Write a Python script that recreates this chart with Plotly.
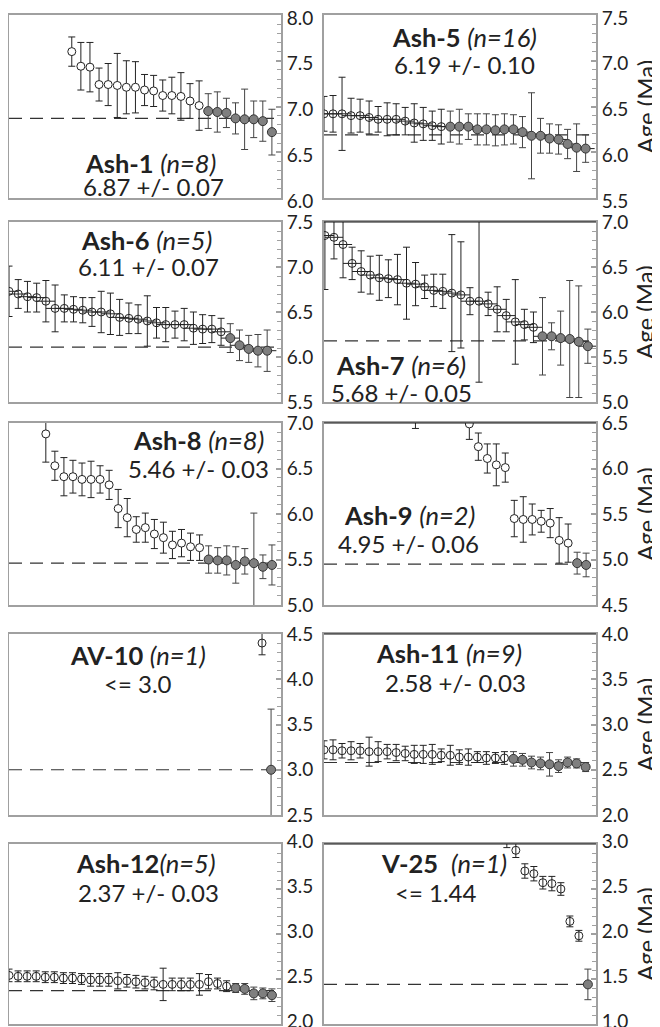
import plotly.graph_objects as go

# ---------------- data ----------------
names = ["Ash-1", "Ash-5", "Ash-6", "Ash-7", "Ash-8", "Ash-9", "AV-10", "Ash-11", "Ash-12", "V-25"]
n_used = [8, 16, 5, 6, 8, 2, 1, 9, 5, 1]
means = [6.87, 6.19, 6.11, 5.68, 5.46, 4.95, 3.0, 2.58, 2.37, 1.44]
mean_labels = ["6.87 +/- 0.07", "6.19 +/- 0.10", "6.11 +/- 0.07", "5.68 +/- 0.05", "5.46 +/- 0.03",
               "4.95 +/- 0.06", "<= 3.0", "2.58 +/- 0.03", "2.37 +/- 0.03", "<= 1.44"]
y_ranges = [[6.0, 8.0], [5.5, 7.5], [5.5, 7.5], [5.0, 7.0], [5.0, 7.0],
            [4.5, 6.5], [2.5, 4.5], [2.0, 4.0], [2.0, 4.0], [1.0, 3.0]]

ash1_idx = list(range(7, 30))
ash1_age = [7.60, 7.44, 7.43, 7.24, 7.24, 7.23, 7.21, 7.21, 7.18, 7.17, 7.12, 7.12, 7.11, 7.06, 7.01,
            6.95, 6.94, 6.93, 6.87, 6.86, 6.86, 6.84, 6.72]
ash1_err = [0.16, 0.26, 0.27, 0.18, 0.23, 0.35, 0.29, 0.28, 0.17, 0.17, 0.17, 0.20, 0.26, 0.19, 0.27,
            0.19, 0.22, 0.16, 0.17, 0.33, 0.20, 0.22, 0.25]

ash5_idx = list(range(0, 30))
ash5_age = [6.42, 6.42, 6.42, 6.40, 6.40, 6.38, 6.36, 6.36, 6.36, 6.34, 6.32, 6.31, 6.29, 6.28,
            6.28, 6.28, 6.28, 6.25, 6.25, 6.24, 6.25, 6.25, 6.22, 6.18, 6.18, 6.15, 6.14, 6.09, 6.05, 6.04]
ash5_err = [0.19, 0.20, 0.40, 0.19, 0.18, 0.18, 0.14, 0.18, 0.17, 0.15, 0.21, 0.18, 0.16, 0.19,
            0.17, 0.19, 0.14, 0.17, 0.17, 0.17, 0.17, 0.16, 0.17, 0.47, 0.19, 0.16, 0.16, 0.16, 0.26, 0.15]

ash6_idx = list(range(0, 29))
ash6_age = [6.73, 6.70, 6.67, 6.66, 6.62, 6.54, 6.54, 6.53, 6.52, 6.50, 6.50, 6.48, 6.44, 6.43, 6.42,
            6.40, 6.38, 6.36, 6.36, 6.36, 6.32, 6.31, 6.31, 6.28, 6.21, 6.13, 6.09, 6.07, 6.07]
ash6_err = [0.28, 0.16, 0.17, 0.16, 0.23, 0.26, 0.15, 0.14, 0.14, 0.16, 0.23, 0.23, 0.20, 0.17, 0.16,
            0.28, 0.17, 0.19, 0.15, 0.18, 0.18, 0.16, 0.15, 0.15, 0.16, 0.17, 0.15, 0.18, 0.23]

ash7_idx = list(range(0, 30))
ash7_age = [6.85, 6.83, 6.75, 6.54, 6.45, 6.41, 6.38, 6.37, 6.36, 6.32, 6.31, 6.28, 6.24, 6.23, 6.21,
            6.19, 6.12, 6.12, 6.09, 6.03, 5.96, 5.89, 5.86, 5.83, 5.73, 5.73, 5.71, 5.70, 5.67, 5.62]
ash7_err = [0.60, 0.24, 0.37, 0.18, 0.23, 0.21, 0.25, 0.21, 0.28, 0.40, 0.24, 0.13, 0.18, 0.19, 0.65,
            0.59, 0.15, 0.90, 0.13, 0.25, 0.18, 0.47, 0.17, 0.17, 0.43, 0.15, 0.30, 0.65, 0.62, 0.19]

ash8_idx = list(range(4, 30))
ash8_age = [6.88, 6.53, 6.41, 6.41, 6.38, 6.38, 6.38, 6.32, 6.06, 5.96, 5.83, 5.85, 5.78, 5.74, 5.66,
            5.68, 5.64, 5.63, 5.50, 5.49, 5.49, 5.44, 5.48, 5.46, 5.42, 5.44]
ash8_err = [0.31, 0.16, 0.21, 0.18, 0.18, 0.20, 0.15, 0.16, 0.21, 0.21, 0.14, 0.16, 0.16, 0.17, 0.15,
            0.15, 0.15, 0.14, 0.15, 0.14, 0.16, 0.20, 0.14, 0.55, 0.13, 0.22]

ash9_idx = [10] + list(range(16, 30))
ash9_age = [6.90, 6.49, 6.24, 6.11, 6.04, 6.01, 5.45, 5.44, 5.44, 5.42, 5.40, 5.21, 5.18, 4.96, 4.94]
ash9_err = [0.46, 0.17, 0.15, 0.16, 0.23, 0.16, 0.20, 0.25, 0.17, 0.12, 0.16, 0.25, 0.21, 0.12, 0.13]

av10_idx = [28, 29]
av10_age = [4.40, 3.00]
av10_err = [0.13, 0.67]

ash11_idx = list(range(0, 30))
ash11_age = [2.72, 2.72, 2.71, 2.71, 2.71, 2.70, 2.70, 2.70, 2.69, 2.68, 2.67, 2.67, 2.67, 2.66, 2.66,
             2.64, 2.64, 2.64, 2.63, 2.63, 2.63, 2.62, 2.61, 2.58, 2.57, 2.56, 2.54, 2.58, 2.57, 2.53]
ash11_err = [0.10, 0.11, 0.08, 0.10, 0.08, 0.16, 0.11, 0.08, 0.09, 0.08, 0.10, 0.10, 0.11, 0.07, 0.11,
             0.08, 0.09, 0.06, 0.07, 0.06, 0.07, 0.08, 0.07, 0.07, 0.07, 0.13, 0.07, 0.06, 0.05, 0.05]

ash12_idx = list(range(0, 30))
ash12_age = [2.54, 2.53, 2.53, 2.53, 2.52, 2.52, 2.51, 2.51, 2.50, 2.49, 2.49, 2.49, 2.48, 2.48, 2.47,
             2.46, 2.45, 2.44, 2.44, 2.44, 2.44, 2.44, 2.47, 2.45, 2.42, 2.40, 2.39, 2.34, 2.34, 2.32]
ash12_err = [0.07, 0.06, 0.06, 0.06, 0.06, 0.06, 0.06, 0.06, 0.06, 0.07, 0.07, 0.07, 0.09, 0.07, 0.07,
             0.07, 0.07, 0.18, 0.07, 0.07, 0.07, 0.12, 0.08, 0.06, 0.06, 0.05, 0.06, 0.07, 0.06, 0.07]

v25_idx = [20] + list(range(21, 30))
v25_age = [3.10, 2.93, 2.70, 2.67, 2.57, 2.56, 2.50, 2.14, 1.98, 1.44]
v25_err = [0.14, 0.08, 0.08, 0.08, 0.07, 0.08, 0.07, 0.06, 0.06, 0.17]

idx_all = [ash1_idx, ash5_idx, ash6_idx, ash7_idx, ash8_idx, ash9_idx, av10_idx, ash11_idx, ash12_idx, v25_idx]
age_all = [ash1_age, ash5_age, ash6_age, ash7_age, ash8_age, ash9_age, av10_age, ash11_age, ash12_age, v25_age]
err_all = [ash1_err, ash5_err, ash6_err, ash7_err, ash8_err, ash9_err, av10_err, ash11_err, ash12_err, v25_err]

# ---------------- layout / style ----------------
PAGE = 8                      # default page (body) margin of the html page
W, H = 660 - PAGE, 1027 - PAGE


def px(x):
    return (x - PAGE) / W


def py(y):
    return 1 - (y - PAGE) / H


col_x = [(9, 281), (324, 596)]
row_y = [(15, 198), (222, 402), (423, 605), (634, 815), (844, 1024)]
row_label_shift = [3, 0, 0, 0, -3]
x_ranges = [[0.1, 30.0], [0.0, 30.15], [0.0, 29.5], [-0.1, 29.9], [-0.07, 30.0],
            [-0.18, 30.1], [-0.02, 30.1], [0.0, 30.15], [0.0, 30.0], [-0.3, 29.9]]
white_fill = [True, False, False, False, True, True, False, False, False, False]
x_bars = [False, True, True, True, False, False, False, False, False, False]
# text positions (pixel centres in the page): line1, line2
txt_pos = [((150, 163), (153, 186)), ((464, 37), (464, 64)), ((146, 240), (148, 267)),
           ((401, 365), (402, 392)), ((198, 440), (198, 468)), ((409, 515), (408, 543)),
           ((138, 655), (138, 683)), ((449, 653), (455, 682)), ((145, 863), (148, 892)),
           ((444, 863), (435, 892))]
name_sep = [" ", " ", " ", " ", " ", " ", " ", " ", "", "  "]

FONT = "Lato, 'Open Sans', sans-serif"
AX = "#a0a0a0"
TXT = "#222222"

fig = go.Figure()
layout = dict(template="none", width=W, height=H, margin=dict(l=0, r=0, t=0, b=0, pad=0), autosize=False,
              paper_bgcolor="white", plot_bgcolor="white", showlegend=False)
shapes, annotations = [], []

for k in range(10):
    row, col = divmod(k, 2)
    x0, x1 = col_x[col]
    y0, y1 = row_y[row]
    sfx = "" if k == 0 else str(k + 1)
    xa, ya = "x" + sfx, "y" + sfx
    layout["xaxis" + sfx] = dict(domain=[px(x0), px(x1)], range=x_ranges[k], anchor=ya, automargin=False,
                                 showticklabels=False, ticks="", showgrid=False, zeroline=False,
                                 showline=True, mirror=True, linecolor=AX, linewidth=1.5)
    layout["yaxis" + sfx] = dict(domain=[py(y1), py(y0)], range=y_ranges[k], anchor=xa,
                                 automargin=False, side="right", showgrid=False, zeroline=False,
                                 showline=True, mirror=True, linecolor=AX, linewidth=2,
                                 dtick=0.5, tick0=0, tickformat=".1f", ticks="inside", ticklen=5,
                                 tickcolor=AX, tickwidth=1.5, ticklabeloverflow="allow",
                                 ticklabelshift=row_label_shift[row],
                                 tickfont=dict(family=FONT, size=19, color=TXT),
                                 minor=dict(dtick=0.1, ticks="inside", ticklen=4, tickcolor=AX, tickwidth=1))

    idx, age, err = idx_all[k], age_all[k], err_all[k]
    n = n_used[k]
    m = len(age) - n
    # dashed weighted mean line
    shapes.append(dict(type="line", xref=xa + " domain", yref=ya, x0=0, x1=1, y0=means[k], y1=means[k],
                       line=dict(color="#333333", width=1.2, dash="13px,8px"), layer="below"))
    if col == 1 and row > 0:
        shapes.append(dict(type="line", xref=xa + " domain", yref=ya + " domain", x0=0, x1=1, y0=1, y1=1,
                           line=dict(color="#111111", width=1.2)))
    ex = dict(type="constant", value=1, color="#222222", thickness=1, width=0) if x_bars[k] else None
    if m > 0:
        if white_fill[k]:
            mk = dict(symbol="circle", size=8, color="white", line=dict(color="#222222", width=1))
        else:
            mk = dict(symbol="circle-open", size=8, color="#222222", line=dict(width=1))
        fig.add_trace(go.Scatter(x=idx[:m], y=age[:m], mode="markers", xaxis=xa, yaxis=ya, marker=mk,
                                 error_y=dict(type="data", array=err[:m], color="#222222", thickness=1, width=3.5),
                                 error_x=ex))
    fig.add_trace(go.Scatter(x=idx[m:], y=age[m:], mode="markers", xaxis=xa, yaxis=ya,
                             marker=dict(symbol="circle", size=9, color="#7f7f7f",
                                         line=dict(color="#333333", width=1)),
                             error_y=dict(type="data", array=err[m:], color="#444444", thickness=1, width=3.5),
                             error_x=ex))

    (l1x, l1y), (l2x, l2y) = txt_pos[k]
    annotations.append(dict(xref="paper", yref="paper", x=px(l1x), y=py(l1y), xanchor="center",
                            yanchor="middle", showarrow=False,
                            text="<b>%s</b>%s<i>(n=%d)</i>" % (names[k], name_sep[k], n),
                            font=dict(family=FONT, size=25.5, color=TXT)))
    annotations.append(dict(xref="paper", yref="paper", x=px(l2x), y=py(l2y), xanchor="center",
                            yanchor="middle", showarrow=False, text=mean_labels[k].replace("<", "&lt;"),
                            font=dict(family=FONT, size=24, color=TXT)))
    if col == 1:
        annotations.append(dict(xref="paper", yref="paper", x=px(645), y=py((y0 + y1) / 2),
                                xanchor="center", yanchor="middle", showarrow=False, textangle=-90,
                                text="Age (Ma)", font=dict(family=FONT, size=24, color=TXT)))

layout["shapes"] = shapes
layout["annotations"] = annotations
fig.update_layout(**layout)
fig.write_html("out.html")
